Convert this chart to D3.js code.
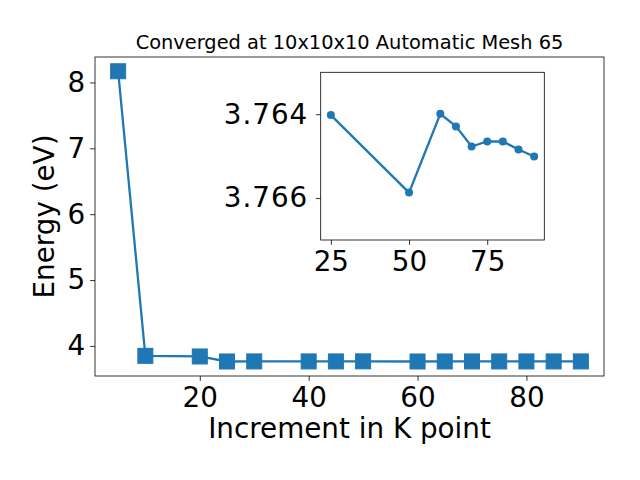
<!DOCTYPE html>
<html><head><meta charset="utf-8">
<script src="https://cdn.jsdelivr.net/npm/d3@7"></script>
<style>body{margin:0;background:#fff}svg{display:block;font-family:"DejaVu Sans",sans-serif}</style>
</head><body>
<script>
// Main data
const kPoints = [5, 10, 20, 25, 30, 40, 45, 50, 60, 65, 70, 75, 80, 85, 90];
const energies = [8.17, 3.85, 3.84, 3.76402, 3.7650, 3.7650, 3.7650, 3.76587, 3.76399, 3.76429, 3.76477, 3.76465, 3.76465, 3.76484, 3.76501];
// Inset data
const insetK = [25, 50, 60, 65, 70, 75, 80, 85, 90];
const insetE = [3.76402, 3.76587, 3.76399, 3.76429, 3.76477, 3.76465, 3.76465, 3.76484, 3.76501];
const xTicks = [20, 40, 60, 80];
const yTicks = [4, 5, 6, 7, 8];
const insetXTicks = [25, 50, 75];
const insetYTicks = [3.764, 3.766];
const titleText = "Converged at 10x10x10 Automatic Mesh 65";
const xLabel = "Increment in K point";
const yLabel = "Energy (eV)";

const W = 640, H = 480, C = "#1f77b4";
const svg = d3.select("body").append("svg").attr("width", W).attr("height", H);

const M = {l: 95, r: 604, t: 57, b: 376};
const x = d3.scaleLinear().domain([0.75, 94.25]).range([M.l, M.r]);
const y = d3.scaleLinear().domain([3.5435, 8.3865]).range([M.b, M.t]);

function styleAxis(g, fs) {
  g.select(".domain").remove();
  g.selectAll(".tick line").attr("stroke", "#000").attr("stroke-width", 0.8);
  g.selectAll(".tick text").attr("fill", "#000").style("font-size", fs + "px").attr("font-family", "DejaVu Sans");
}

// main x axis
const gx = svg.append("g").attr("transform", `translate(0,${M.b})`)
  .call(d3.axisBottom(x).tickValues(xTicks).tickSize(4.9).tickPadding(4.9).tickFormat(d3.format("d")));
styleAxis(gx, 27.8);
gx.selectAll(".tick text").attr("dy", "0.76em");
const gy = svg.append("g").attr("transform", `translate(${M.l},0)`)
  .call(d3.axisLeft(y).tickValues(yTicks).tickSize(4.9).tickPadding(4.9).tickFormat(d3.format("d")));
styleAxis(gy, 27.8);

// line + markers
const line = d3.line().x((d, i) => x(kPoints[i])).y(d => y(d));
svg.append("path").datum(energies).attr("d", line).attr("fill", "none").attr("stroke", C).attr("stroke-width", 2.3);
const ms = 15;
svg.selectAll("rect.m").data(energies).join("rect").attr("class", "m")
  .attr("x", (d, i) => x(kPoints[i]) - ms / 2).attr("y", d => y(d) - ms / 2)
  .attr("width", ms).attr("height", ms).attr("fill", C).attr("stroke", C).attr("stroke-width", 1);

svg.append("rect").attr("x", M.l).attr("y", M.t).attr("width", M.r - M.l).attr("height", M.b - M.t)
  .attr("fill", "none").attr("stroke", "#000").attr("stroke-width", 0.8);

svg.append("text").attr("x", (M.l + M.r) / 2).attr("y", 48.5).attr("text-anchor", "middle")
  .style("font-size", "19.4px").text(titleText);
svg.append("text").attr("x", (M.l + M.r) / 2).attr("y", 438).attr("text-anchor", "middle")
  .style("font-size", "27.8px").text(xLabel);
svg.append("text").attr("transform", `translate(54,${(M.t + M.b) / 2}) rotate(-90)`).attr("text-anchor", "middle")
  .style("font-size", "27.8px").text(yLabel);

// inset
const I = {l: 320.7, r: 544.3, t: 72.3, b: 240};
const ix = d3.scaleLinear().domain([21.75, 93.25]).range([I.l, I.r]);
const iy = d3.scaleLinear().domain([3.763, 3.767]).range([I.t, I.b]);
svg.append("rect").attr("x", I.l).attr("y", I.t).attr("width", I.r - I.l).attr("height", I.b - I.t)
  .attr("fill", "#fff").attr("stroke", "none");
const igx = svg.append("g").attr("transform", `translate(0,${I.b})`)
  .call(d3.axisBottom(ix).tickValues(insetXTicks).tickSize(4.9).tickPadding(4.9).tickFormat(d3.format("d")));
styleAxis(igx, 27.8);
igx.selectAll(".tick text").attr("dy", "0.76em");
const igy = svg.append("g").attr("transform", `translate(${I.l},0)`)
  .call(d3.axisLeft(iy).tickValues(insetYTicks).tickSize(4.9).tickPadding(7.5).tickFormat(d3.format(".3f")));
styleAxis(igy, 27.8);
igy.selectAll(".tick text").attr("letter-spacing", "1px");
const iline = d3.line().x((d, i) => ix(insetK[i])).y(d => iy(d));
svg.append("path").datum(insetE).attr("d", iline).attr("fill", "none").attr("stroke", C).attr("stroke-width", 2.3);
svg.selectAll("circle.im").data(insetE).join("circle").attr("class", "im")
  .attr("cx", (d, i) => ix(insetK[i])).attr("cy", d => iy(d)).attr("r", 4).attr("fill", C);
svg.append("rect").attr("x", I.l).attr("y", I.t).attr("width", I.r - I.l).attr("height", I.b - I.t)
  .attr("fill", "none").attr("stroke", "#000").attr("stroke-width", 0.8);
</script>
</body></html>
